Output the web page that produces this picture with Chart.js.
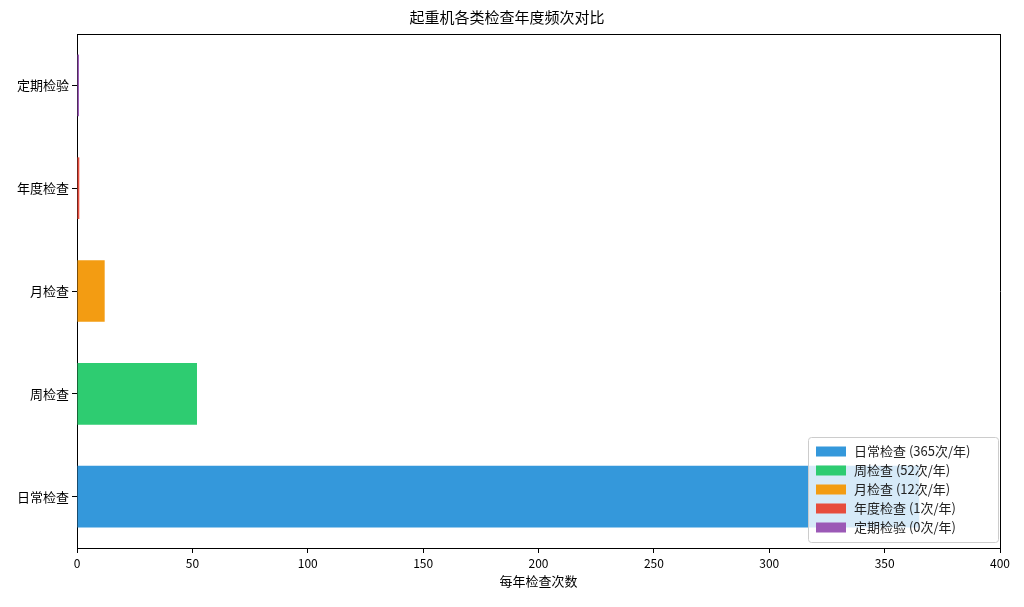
<!DOCTYPE html>
<html><head><meta charset="utf-8">
<script src="https://cdn.jsdelivr.net/npm/chart.js@4"></script>
<style>body{margin:0;background:#fff}#w{width:1024px;height:607px}</style>
</head><body><div id="w"><canvas id="c"></canvas></div>
<script>
const categories = ["定期检验","年度检查","月检查","周检查","日常检查"];
const seriesNames = ["日常检查","周检查","月检查","年度检查","定期检验"];
const seriesValues = [365, 52, 12, 1, 0];
const colors = ["#3498db","#2ecc71","#f39c12","#e74c3c","#9b59b6"];
const xTicks = [0,50,100,150,200,250,300,350,400];
const F = "'Noto Sans CJK SC','DejaVu Sans',sans-serif";
const datasets = seriesNames.map((n,i)=>({
  label: n + " (" + seriesValues[i] + "次/年)",
  data: categories.map(c => c===n ? seriesValues[i] : null),
  backgroundColor: colors[i], borderColor: colors[i], borderWidth: 0,
  minBarLength: 2, categoryPercentage: 0.6, barPercentage: 1
}));
const legendPlugin = {id:'lg', afterDraw(chart){
  const ctx=chart.ctx, a=chart.chartArea;
  const rowH=19, w=190, h=datasets.length*rowH+10;
  const x0=a.right-w-2, y0=a.bottom-h-6;
  ctx.save();
  ctx.fillStyle='rgba(255,255,255,0.8)'; ctx.strokeStyle='#ccc'; ctx.lineWidth=1;
  ctx.beginPath(); ctx.roundRect(x0+0.5,y0+0.5,w,h,3); ctx.fill(); ctx.stroke();
  ctx.font="13px "+F; ctx.textBaseline='middle';
  datasets.forEach((d,i)=>{
    const cy=y0+5+rowH*i+rowH/2;
    ctx.fillStyle=d.backgroundColor; ctx.fillRect(x0+8,cy-5,30,10);
    ctx.fillStyle='#222'; ctx.fillText(d.label,x0+46,cy);
  });
  ctx.restore();
}};
new Chart(document.getElementById('c'), {
  type:'bar', data:{labels:categories, datasets}, plugins:[legendPlugin],
  options:{indexAxis:'y', responsive:true, maintainAspectRatio:false, animation:false,
    layout:{padding:{left:14,right:24,top:4,bottom:18}},
    plugins:{
      title:{display:true,text:"起重机各类检查年度频次对比",color:'#000',font:{family:F,size:15,weight:'normal'},padding:{top:4,bottom:8}},
      legend:{display:false},
      tooltip:{enabled:false}
    },
    scales:{
      x:{min:0,max:400,afterBuildTicks:a=>{a.ticks=xTicks.map(v=>({value:v}))},
        grid:{display:true,drawOnChartArea:false,drawTicks:true,tickLength:5,tickColor:'#000'},border:{color:'#000'},
        ticks:{color:'#000',font:{family:F,size:12}},
        title:{display:true,text:"每年检查次数",color:'#000',font:{family:F,size:13},padding:0}},
      y:{stacked:true,grid:{display:true,drawOnChartArea:false,offset:false,tickLength:5,tickColor:'#000'},border:{color:'#000'},
        ticks:{color:'#000',font:{family:F,size:13}}},
      x2:{position:'top',display:true,grid:{display:false,drawTicks:false},ticks:{display:false},border:{color:'#000'}},
      y2:{position:'right',display:true,grid:{display:false,drawTicks:false},ticks:{display:false},border:{color:'#000'}}
    }
  }
});
</script></body></html>
